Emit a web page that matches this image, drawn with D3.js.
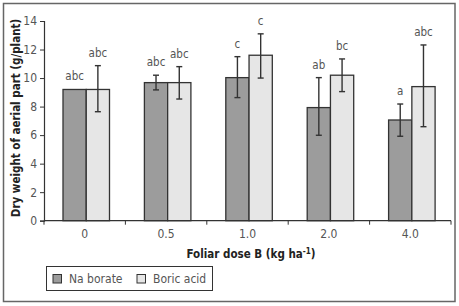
<!DOCTYPE html>
<html>
<head>
    <title>Dry weight of aerial part</title>
    <script src="https://cdnjs.cloudflare.com/ajax/libs/d3/7.8.5/d3.min.js"></script>
    <style>
        body {
            margin: 0;
            padding: 0;
            background: #fff;
        }
        svg text {
            font-family: "Liberation Sans Narrow", "Arial Narrow", "DejaVu Sans Condensed", sans-serif;
        }
        .tick-label {
            font-size: 12px;
            fill: #555;
        }
        .axis-title {
            font-size: 11.5px;
            font-weight: bold;
            fill: #222;
        }
        .letter {
            font-size: 11.5px;
            fill: #555;
        }
    </style>
</head>
<body>
    <div id="chart"></div>

    <script>
        // Data
        const doses = ["0", "0.5", "1.0", "2.0", "4.0"];
        const seriesNames = ["Na borate", "Boric acid"];
        const naBorate = [9.2, 9.68, 10.03, 7.93, 7.06];
        const naBorateLow = [null, 9.17, 8.63, 5.99, 5.92];
        const naBorateHigh = [null, 10.2, 11.5, 10.03, 8.18];
        const naBorateLetters = ["abc", "abc", "c", "ab", "a"];
        const boricAcid = [9.2, 9.68, 11.6, 10.2, 9.4];
        const boricAcidLow = [7.64, 8.53, 10.0, 9.05, 6.59];
        const boricAcidHigh = [10.87, 10.8, 13.1, 11.34, 12.32];
        const boricAcidLetters = ["abc", "abc", "c", "bc", "abc"];
        const yTicks = [0, 2, 4, 6, 8, 10, 12, 14];
        const colors = ["#9c9c9c", "#e6e6e6"];

        const W = 459, H = 306;
        const svg = d3.select('#chart').append('svg')
            .attr('width', W)
            .attr('height', H);

        // outer frame
        svg.append('rect')
            .attr('x', 3.5).attr('y', 3.5)
            .attr('width', 451.5).attr('height', 298)
            .attr('fill', 'none')
            .attr('stroke', '#666')
            .attr('stroke-width', 1.5);

        const plotLeft = 44, plotRight = 451, plotTop = 21, plotBottom = 220.7;

        const x = d3.scaleBand().domain(doses).range([plotLeft, plotRight]);
        const x1 = d3.scaleBand().domain(seriesNames).range([19, 65.5]);
        const y = d3.scaleLinear().domain([0, 14]).range([plotBottom, plotTop]);

        const rows = [];
        doses.forEach((d, i) => {
            rows.push({ dose: d, series: seriesNames[0], value: naBorate[i], lo: naBorateLow[i], hi: naBorateHigh[i], letter: naBorateLetters[i], color: colors[0] });
            rows.push({ dose: d, series: seriesNames[1], value: boricAcid[i], lo: boricAcidLow[i], hi: boricAcidHigh[i], letter: boricAcidLetters[i], color: colors[1] });
        });

        // bars
        svg.selectAll('.bar')
            .data(rows)
            .enter().append('rect')
            .attr('class', 'bar')
            .attr('x', d => x(d.dose) + x1(d.series))
            .attr('y', d => y(d.value))
            .attr('width', x1.bandwidth())
            .attr('height', d => y(0) - y(d.value))
            .attr('fill', d => d.color)
            .attr('stroke', '#333')
            .attr('stroke-width', 1.3);

        // error bars
        const eb = svg.selectAll('.err')
            .data(rows.filter(d => d.lo != null))
            .enter().append('g')
            .attr('class', 'err')
            .attr('stroke', '#333')
            .attr('stroke-width', 1.4);
        const cx = d => x(d.dose) + x1(d.series) + x1.bandwidth() / 2;
        eb.append('line')
            .attr('x1', cx).attr('x2', cx)
            .attr('y1', d => y(d.lo)).attr('y2', d => y(d.hi));
        eb.append('line')
            .attr('x1', d => cx(d) - 3).attr('x2', d => cx(d) + 3)
            .attr('y1', d => y(d.hi)).attr('y2', d => y(d.hi));
        eb.append('line')
            .attr('x1', d => cx(d) - 3).attr('x2', d => cx(d) + 3)
            .attr('y1', d => y(d.lo)).attr('y2', d => y(d.lo));

        // significance letters
        svg.selectAll('.letter')
            .data(rows)
            .enter().append('text')
            .attr('class', 'letter')
            .attr('x', cx)
            .attr('y', d => y(d.hi != null ? d.hi : d.value) - 9)
            .attr('text-anchor', 'middle')
            .text(d => d.letter);

        // y axis
        const yAxis = svg.append('g')
            .attr('transform', `translate(${plotLeft},0)`)
            .call(d3.axisLeft(y).tickValues(yTicks).tickSize(4).tickPadding(3));
        yAxis.select('.domain').attr('stroke', '#333').attr('stroke-width', 1.2);
        yAxis.selectAll('.tick line').attr('stroke', '#333');
        yAxis.selectAll('.tick text').attr('class', 'tick-label').attr('font-size', null).attr('font-family', null);

        // x axis: ticks at the category boundaries
        const boundaries = doses.map(d => x(d)).concat([x.range()[1]]);
        const xAxis = svg.append('g');
        xAxis.append('line')
            .attr('x1', plotLeft).attr('x2', plotRight)
            .attr('y1', plotBottom).attr('y2', plotBottom)
            .attr('stroke', '#333').attr('stroke-width', 1.2);
        xAxis.selectAll('.xt')
            .data(boundaries)
            .enter().append('line')
            .attr('x1', d => d).attr('x2', d => d)
            .attr('y1', plotBottom).attr('y2', plotBottom + 4)
            .attr('stroke', '#333');
        xAxis.selectAll('.xl')
            .data(doses)
            .enter().append('text')
            .attr('class', 'tick-label')
            .attr('x', d => x(d) + x.bandwidth() / 2)
            .attr('y', 238)
            .attr('text-anchor', 'middle')
            .text(d => d);

        // axis titles
        svg.append('text')
            .attr('class', 'axis-title')
            .attr('transform', 'translate(20,118) rotate(-90)')
            .attr('text-anchor', 'middle')
            .text('Dry weight of aerial part (g/plant)');

        const xt = svg.append('text')
            .attr('class', 'axis-title')
            .attr('x', 251)
            .attr('y', 258)
            .attr('text-anchor', 'middle');
        xt.append('tspan').text('Foliar dose B  (kg ha');
        xt.append('tspan').attr('dy', -4).attr('font-size', 8).text('-1');
        xt.append('tspan').attr('dy', 4).text(')');

        // legend
        const legend = svg.append('g');
        legend.append('rect')
            .attr('x', 46.5).attr('y', 266.5)
            .attr('width', 166).attr('height', 24)
            .attr('fill', '#fff')
            .attr('stroke', '#333')
            .attr('stroke-width', 1);
        const legendX = [53, 137];
        seriesNames.forEach((s, i) => {
            legend.append('rect')
                .attr('x', legendX[i]).attr('y', 274.5)
                .attr('width', 8.5).attr('height', 8.5)
                .attr('fill', colors[i])
                .attr('stroke', '#333');
            legend.append('text')
                .attr('class', 'tick-label')
                .attr('x', legendX[i] + 16)
                .attr('y', 283)
                .text(s);
        });
    </script>
</body>
</html>
